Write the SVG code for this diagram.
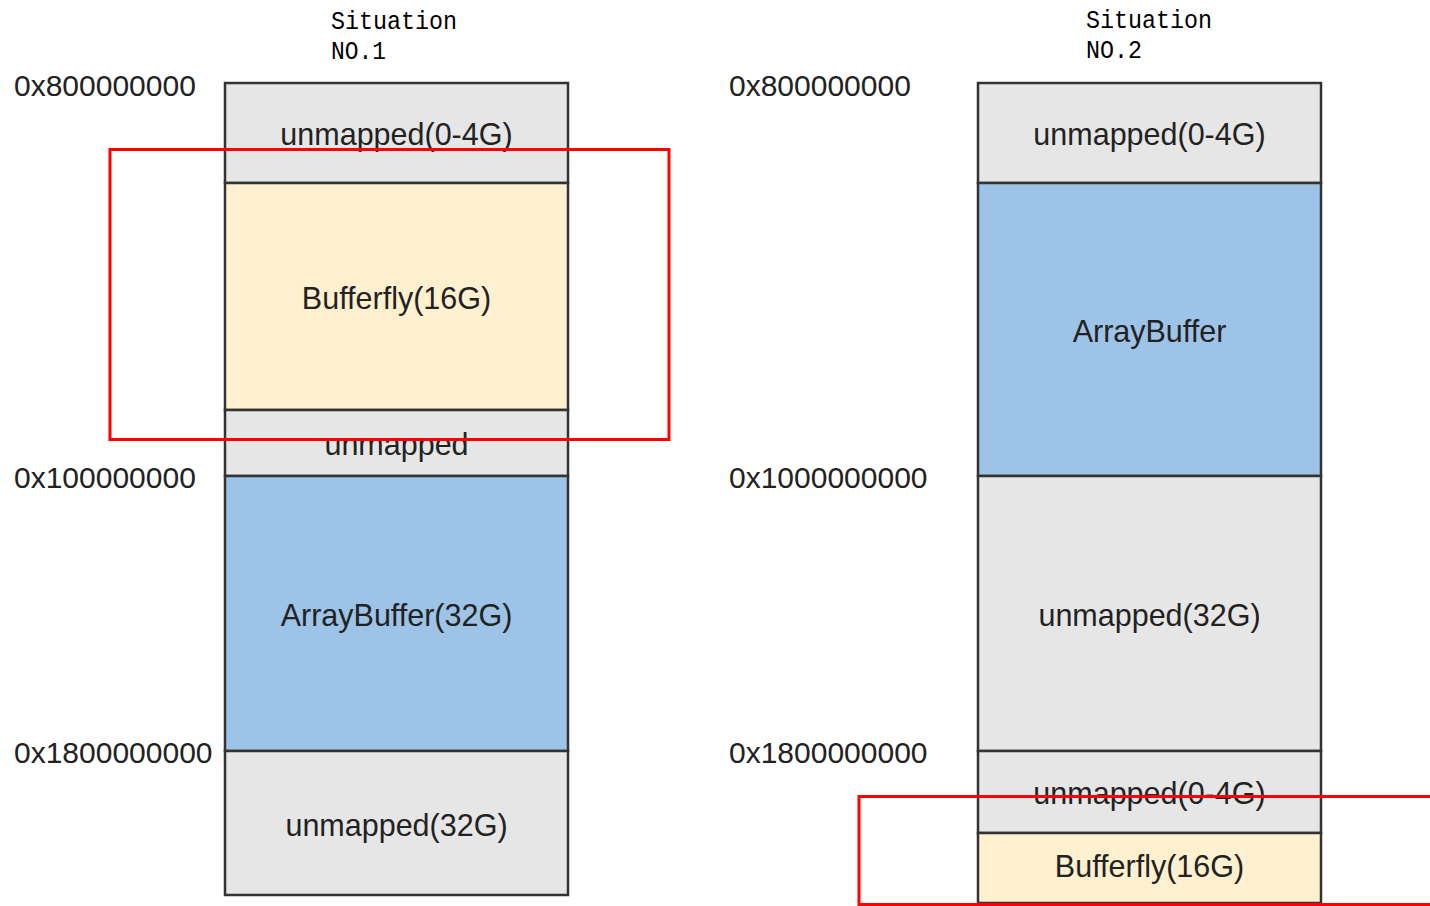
<svg xmlns="http://www.w3.org/2000/svg" width="1430" height="906" viewBox="0 0 1430 906">
  <style>
    .blk { stroke: #333; stroke-width: 2.5; }
    .gray { fill: #e6e6e6; }
    .yellow { fill: #fff0cf; }
    .blue { fill: #9dc3e6; }
    .lbl { font-family: "Liberation Sans", Arial, sans-serif; font-size: 30.5px; fill: #222; text-anchor: middle; dominant-baseline: central; }
    .addr { font-family: "Liberation Sans", Arial, sans-serif; font-size: 30px; fill: #222; dominant-baseline: central; }
    .title { font-family: "Liberation Mono", "Noto Sans CJK SC", monospace; font-size: 25px; fill: #000; }
    .hl { fill: none; stroke: #f00; stroke-width: 3; }
  </style>
  <rect width="1430" height="906" fill="#fff"/>

  <!-- layout of situation 1 -->
  <g id="s1-title"><text class="title" x="331" y="29" textLength="126" lengthAdjust="spacingAndGlyphs">Situation</text><text class="title" x="331" y="59" textLength="55" lengthAdjust="spacingAndGlyphs">NO.1</text></g>
  <g id="s1-a"><rect class="blk gray" x="225" y="83" width="343" height="100"/><text class="lbl" x="396.5" y="134">unmapped(0-4G)</text></g>
  <g id="s1-b"><rect class="blk yellow" x="225" y="183" width="343" height="227"/><text class="lbl" x="396.5" y="298">Bufferfly(16G)</text></g>
  <g id="s1-c"><rect class="blk gray" x="225" y="410" width="343" height="66"/><text class="lbl" x="396.5" y="444">unmapped</text></g>
  <g id="s1-d"><rect class="blk blue" x="225" y="476" width="343" height="275"/><text class="lbl" x="396.5" y="615">ArrayBuffer(32G)</text></g>
  <g id="s1-e"><rect class="blk gray" x="225" y="751" width="343" height="144"/><text class="lbl" x="396.5" y="825">unmapped(32G)</text></g>
  <g id="s1-addr">
    <text class="addr" x="14" y="85">0x800000000</text>
    <text class="addr" x="14" y="477">0x100000000</text>
    <text class="addr" x="14" y="752">0x1800000000</text>
  </g>

  <!-- layout of situation 2 -->
  <g id="s2-title"><text class="title" x="1086" y="28" textLength="126" lengthAdjust="spacingAndGlyphs">Situation</text><text class="title" x="1086" y="58" textLength="56" lengthAdjust="spacingAndGlyphs">NO.2</text></g>
  <g id="s2-a"><rect class="blk gray" x="978" y="83" width="343" height="100"/><text class="lbl" x="1149.5" y="134">unmapped(0-4G)</text></g>
  <g id="s2-b"><rect class="blk blue" x="978" y="183" width="343" height="293"/><text class="lbl" x="1149.5" y="331">ArrayBuffer</text></g>
  <g id="s2-c"><rect class="blk gray" x="978" y="476" width="343" height="275"/><text class="lbl" x="1149.5" y="615">unmapped(32G)</text></g>
  <g id="s2-d"><rect class="blk gray" x="978" y="751" width="343" height="82"/><text class="lbl" x="1149.5" y="793">unmapped(0-4G)</text></g>
  <g id="s2-e"><rect class="blk yellow" x="978" y="833" width="343" height="70"/><text class="lbl" x="1149.5" y="866">Bufferfly(16G)</text></g>
  <g id="s2-addr">
    <text class="addr" x="729" y="85">0x800000000</text>
    <text class="addr" x="729" y="477">0x1000000000</text>
    <text class="addr" x="729" y="752">0x1800000000</text>
  </g>

  <!-- highlight frames -->
  <g id="connectors">
    <rect class="hl" x="110" y="149.5" width="559" height="290"/>
    <rect class="hl" x="859" y="796.5" width="580" height="108"/>
  </g>
</svg>
